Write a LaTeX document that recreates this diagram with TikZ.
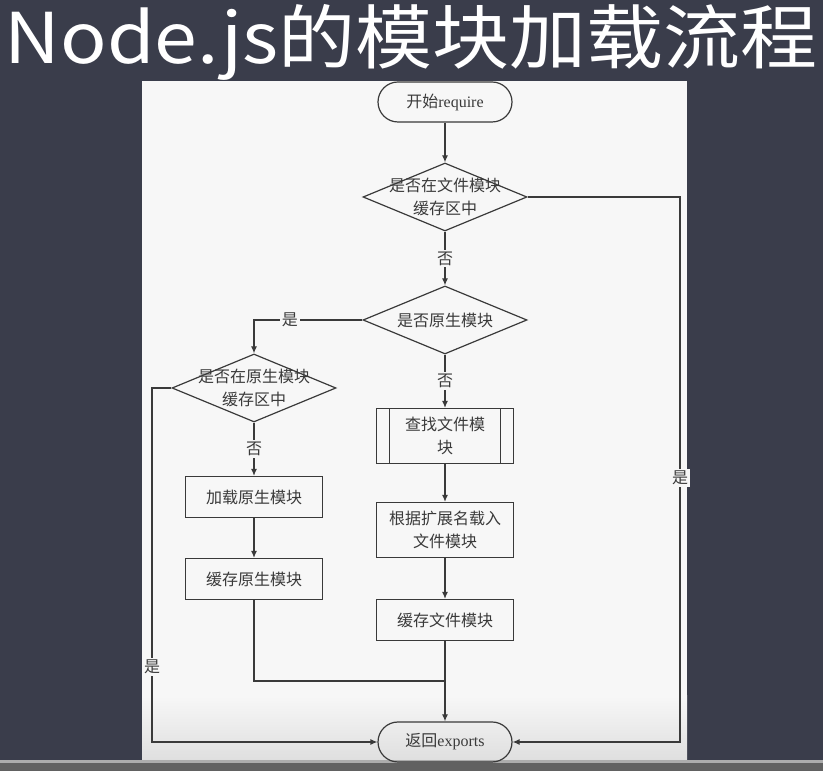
\documentclass[tikz,border=0pt]{standalone}
\usepackage{fontspec}
\setmainfont{Liberation Serif}
\newfontfamily\cjk{Noto Sans CJK SC}
\usetikzlibrary{shapes.geometric,arrows.meta,positioning}
\definecolor{board}{HTML}{3A3D4B}
\definecolor{paper}{HTML}{F7F7F7}
\definecolor{ink}{HTML}{3A3A3A}
\begin{document}
\begin{tikzpicture}[x=1pt, y=1pt, >={Latex[length=7pt,width=6pt]}, line width=1.2pt, color=ink]
        \tikzstyle{term}=[draw, rectangle, rounded corners=20pt, minimum width=134pt, minimum height=40pt, font=\fontsize{16}{20}\selectfont];
        \tikzstyle{unit}=[draw, rectangle, minimum width=137pt, minimum height=41pt, font=\cjk\fontsize{16}{23}\selectfont, align=center];
        \tikzstyle{subunit}=[unit, minimum height=55pt, path picture={
            \draw ([xshift=13pt]path picture bounding box.north west) -- ([xshift=13pt]path picture bounding box.south west)
                  ([xshift=-13pt]path picture bounding box.north east) -- ([xshift=-13pt]path picture bounding box.south east);}];
        \tikzstyle{decision}=[draw, diamond, minimum width=164pt, minimum height=68pt, inner sep=0pt];
        \tikzstyle{dtext}=[align=center, font=\cjk\fontsize{16}{23}\selectfont];
        \tikzstyle{ans}=[fill=paper, inner sep=2pt, font=\cjk\fontsize{16}{18}\selectfont];

        \useasboundingbox (0,0) rectangle (823,771);
        % board, sheet and video bar
        \fill[board] (0,0) rectangle (823,771);
        \fill[paper] (142,11) rectangle (687,690);
        \shade[top color=paper, bottom color=gray!25] (142,11) rectangle (687,75);
        \fill[black!62] (0,0) rectangle (823,11);
        \fill[gray!65] (0,8) rectangle (823,11);

        \node[text=white, font=\cjk\fontsize{70}{70}\selectfont, xscale=1.1] (title) at (411,729) {Node.js的模块加载流程};

        \node[term] (start) at (445,669) {{\cjk 开始}require};
        \node[decision, below of=start, node distance=95pt, label={[dtext]center:是否在文件模块\\缓存区中}] (filecache) {};
        \node[decision, below of=filecache, node distance=123pt, label={[dtext]center:是否原生模块}] (native) {};
        \node[decision, left of=native, node distance=191pt, yshift=-68pt, label={[dtext]center:是否在原生模块\\缓存区中}] (nativecache) {};
        \node[unit, below of=nativecache, node distance=109pt] (loadnative) {加载原生模块};
        \node[unit, below of=loadnative, node distance=82pt] (savenative) {缓存原生模块};
        \node[subunit, below of=native, node distance=116pt] (findfile) {查找文件模\\块};
        \node[unit, below of=findfile, node distance=94pt, minimum height=55pt] (loadext) {根据扩展名载入\\文件模块};
        \node[unit, below of=loadext, node distance=90pt] (savefile) {缓存文件模块};
        \node[term, below of=savefile, node distance=122pt] (done) {{\cjk 返回}exports};

        \coordinate[below of=savefile, node distance=61pt] (merge);
        \coordinate (rightrail) at (680,0);
        \coordinate (leftrail) at (152,0);

        \draw[->] (start) -- (filecache);
        \draw[->] (filecache) -- node[ans]{否} (native);
        \draw[->] (filecache.east) -| (rightrail |- done) node[ans, pos=0.758]{是} -- (done.east);
        \draw[->] (native.west) -| node[ans, pos=0.335]{是} (nativecache.north);
        \draw[->] (nativecache.west) -| (leftrail |- done) node[ans, pos=0.894]{是} -- (done.west);
        \draw[->] (nativecache) -- node[ans]{否} (loadnative);
        \draw[->] (loadnative) -- (savenative);
        \draw (savenative.south) |- (merge);
        \draw[->] (native) -- node[ans]{否} (findfile);
        \draw[->] (findfile) -- (loadext);
        \draw[->] (loadext) -- (savefile);
        \draw[->] (savefile) -- (done);
    \end{tikzpicture}
\end{document}
